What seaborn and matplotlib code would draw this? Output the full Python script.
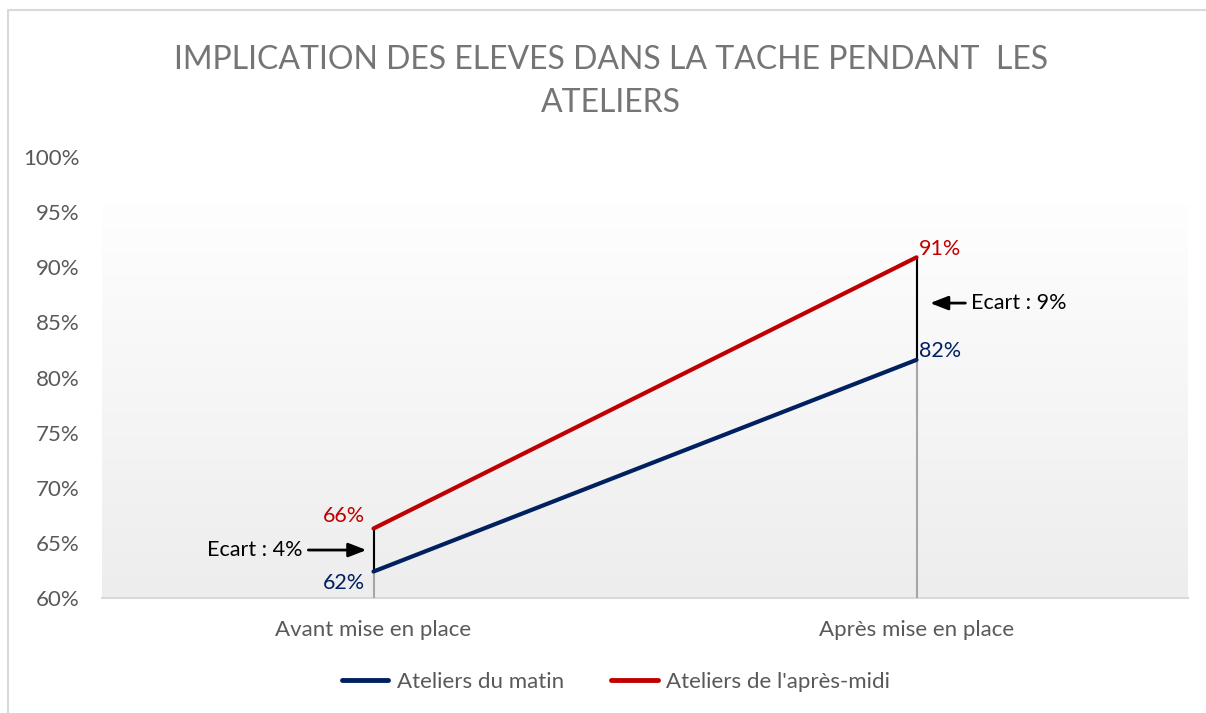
import numpy as np
import pandas as pd
import matplotlib
matplotlib.use("Agg")
import matplotlib.pyplot as plt
import seaborn as sns
from matplotlib.lines import Line2D
from matplotlib.colors import LinearSegmentedColormap

categories = ["Avant mise en place", "Après mise en place"]
matin = [0.624, 0.816]
apres_midi = [0.663, 0.909]
series_names = ["Ateliers du matin", "Ateliers de l'après-midi"]
labels_matin = ["62%", "82%"]
labels_apres = ["66%", "91%"]
ecarts = ["Ecart : 4%", "Ecart : 9%"]
title = "IMPLICATION DES ELEVES DANS LA TACHE PENDANT  LES\nATELIERS"

BLUE = "#002060"
RED = "#C00000"
GREY_TXT = "#595959"

sns.set_theme(style="white")
plt.rcParams['font.family'] = ['Lato', 'DejaVu Sans']

df = pd.DataFrame({
    "cat": categories * 2,
    "val": matin + apres_midi,
    "serie": [series_names[0]] * 2 + [series_names[1]] * 2,
})

fig = plt.figure(figsize=(12.06, 7.13), dpi=100)
W, H = 1206, 713
# outer chart border (top and left only visible)
fig.add_artist(Line2D([8 / W, 8 / W, 1.0], [0.0, 1 - 10 / H, 1 - 10 / H],
                      transform=fig.transFigure, color="#d9d9d9", linewidth=1.5))

ax = fig.add_axes([102 / W, (713 - 598) / H, (1188 - 102) / W, (598 - 157) / H])
ax.set_facecolor("none")

# gradient background
grad = np.linspace(0, 1, 256).reshape(-1, 1)
cmap = LinearSegmentedColormap.from_list("g", ["#fefefe", "#ededed"])
ax.imshow(grad, extent=(-0.5, 1.5, 0.6, 0.956), aspect="auto", cmap=cmap,
          origin="upper", zorder=0)

sns.lineplot(data=df, x="cat", y="val", hue="serie", palette=[BLUE, RED],
             linewidth=3, ax=ax, sort=False, legend=True, zorder=3)

ax.set_xlim(-0.5, 1.5)
ax.set_ylim(0.6, 1.0)
yt = np.arange(0.60, 1.001, 0.05)
ax.set_yticks(yt)
ax.set_yticklabels([f"{int(round(v * 100))}%" for v in yt])
ax.set_xlabel("")
ax.set_ylabel("")
ax.tick_params(axis="both", length=0, labelsize=16, colors=GREY_TXT)
ax.tick_params(axis="y", pad=16)
ax.tick_params(axis="x", pad=16)
for s in ["left", "right", "top"]:
    ax.spines[s].set_visible(False)
ax.spines["bottom"].set_color("#d9d9d9")
ax.spines["bottom"].set_linewidth(1.5)
ax.spines["bottom"].set_zorder(1)

# drop lines and high-low lines
for i in range(len(categories)):
    top = max(matin[i], apres_midi[i])
    low = min(matin[i], apres_midi[i])
    ax.vlines(i, 0.6, top, color="#a6a6a6", linewidth=1.5, zorder=2)
    ax.vlines(i, low, top, color="black", linewidth=1.5, zorder=2.5)

# data labels
FS_LAB = 15.5
ax.annotate(labels_apres[0], (0, apres_midi[0]), xytext=(-6, 2), textcoords="offset points",
            ha="right", va="bottom", color=RED, fontsize=FS_LAB)
ax.annotate(labels_matin[0], (0, matin[0]), xytext=(-6, -1), textcoords="offset points",
            ha="right", va="top", color=BLUE, fontsize=FS_LAB)
ax.annotate(labels_apres[1], (1, apres_midi[1]), xytext=(2, -1), textcoords="offset points",
            ha="left", va="bottom", color=RED, fontsize=FS_LAB)
ax.annotate(labels_matin[1], (1, matin[1]), xytext=(2, -1), textcoords="offset points",
            ha="left", va="bottom", color=BLUE, fontsize=FS_LAB)

# ecart arrows
mid0 = (matin[0] + apres_midi[0]) / 2
ax.annotate("", xy=(0 - 0.013, mid0), xytext=(0 - 0.12, mid0),
            arrowprops=dict(arrowstyle="-|>,head_width=0.35,head_length=0.9",
                            color="black", lw=2, shrinkA=0, shrinkB=0))
ax.annotate(ecarts[0], (0 - 0.13, mid0), ha="right", va="center", fontsize=15.5, color="black")

mid1 = (matin[1] + apres_midi[1]) / 2 + 0.005
ax.annotate("", xy=(1 + 0.025, mid1), xytext=(1 + 0.09, mid1),
            arrowprops=dict(arrowstyle="-|>,head_width=0.35,head_length=0.9",
                            color="black", lw=2, shrinkA=0, shrinkB=0))
ax.annotate(ecarts[1], (1 + 0.10, mid1), ha="left", va="center", fontsize=15.5, color="black")

# title
fig.text(611 / W, 1 - 45 / H, title, ha="center", va="top", fontsize=23,
         color="#757575", linespacing=1.55)

# legend
handles, labs = ax.get_legend_handles_labels()
ax.legend_.remove()
leg = fig.legend(handles, labs, loc="center", bbox_to_anchor=(616 / W, 1 - 682 / H),
                 ncol=2, frameon=False, fontsize=16, handlelength=2.1,
                 columnspacing=2.1, handletextpad=0.4)
for t in leg.get_texts():
    t.set_color(GREY_TXT)
for l in leg.get_lines():
    l.set_linewidth(3.5)

fig.savefig("out.png", dpi=100)
